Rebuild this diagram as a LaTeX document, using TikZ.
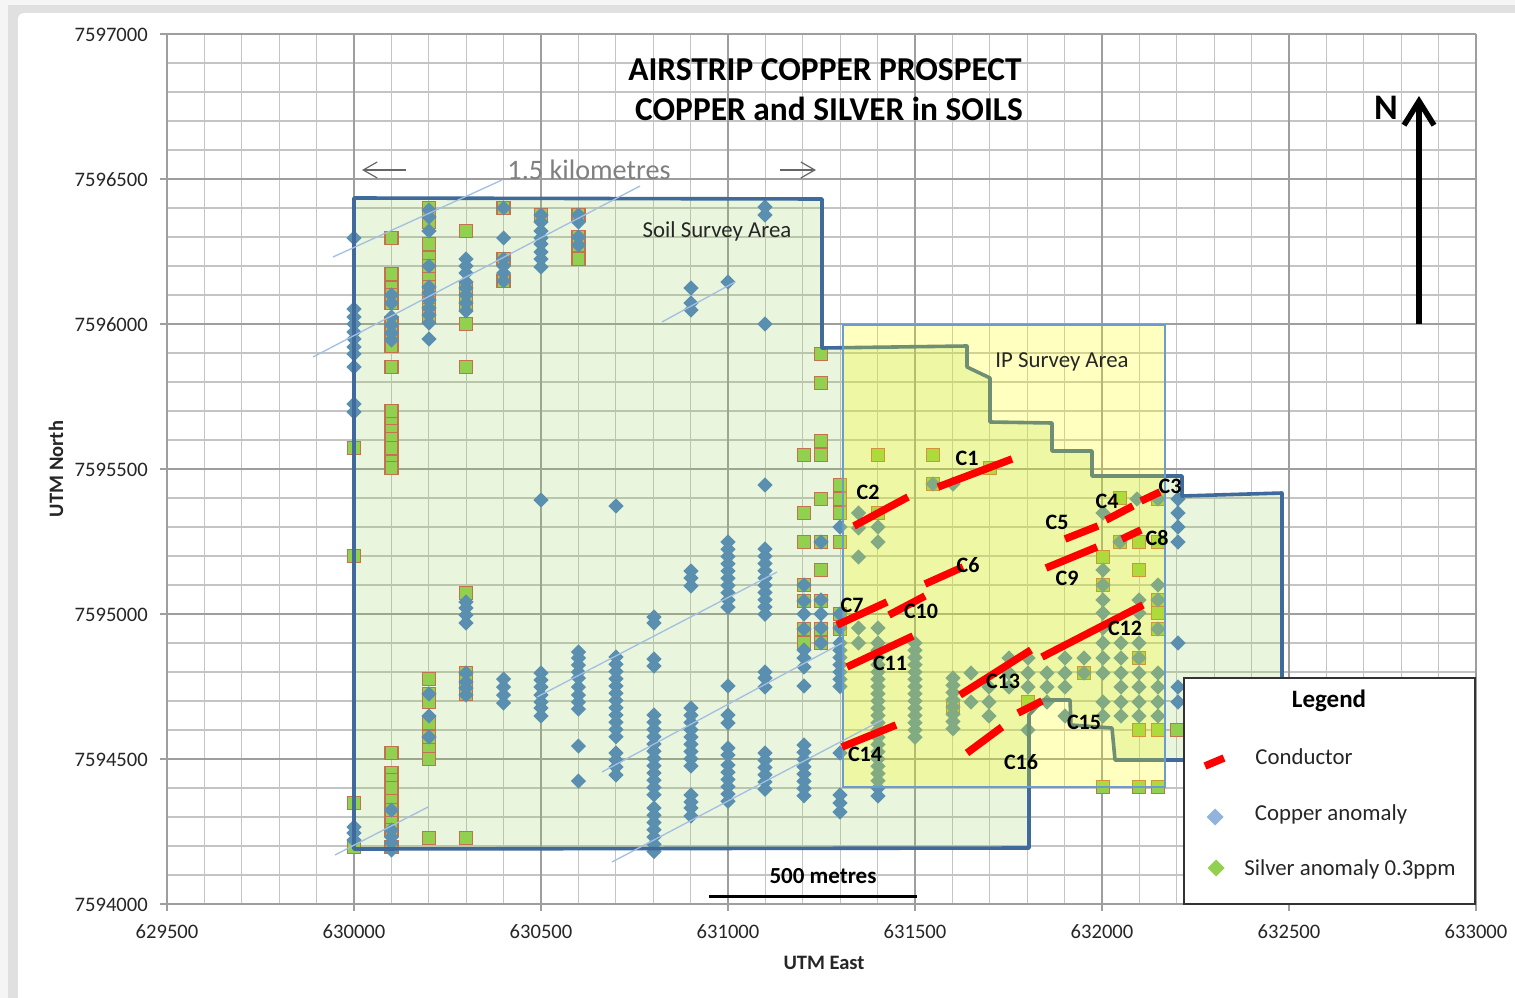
\documentclass[tikz,border=0pt]{standalone}
\usepackage{fontspec}
\setmainfont{Carlito}
\usetikzlibrary{arrows.meta}
\definecolor{gridminor}{HTML}{C4C4C4}
\definecolor{gridmajor}{HTML}{9E9E9E}
\definecolor{soilblue}{HTML}{3F6A9B}
\definecolor{soilgreen}{HTML}{92D050}
\definecolor{ipyellow}{HTML}{FFFF00}
\definecolor{cupt}{HTML}{5A8FAF}
\definecolor{sqedge}{HTML}{C4714F}
\definecolor{ipedge}{HTML}{6C9BD2}
\definecolor{diag}{HTML}{A3BEE3}
\definecolor{txt}{HTML}{262626}
\newcommand\Fs[1]{\fontsize{#1}{#1}\selectfont}
\newcommand\Cu[2]{\foreach \yy in {#2}{\fill[cupt] (#1-7.6,\yy) -- (#1,\yy-7.6) -- (#1+7.6,\yy) -- (#1,\yy+7.6) -- cycle;}}
\newcommand\CuR[3]{\pgfmathtruncatemacro\nnn{round((#3-#2)/7.25)}\foreach \ii in {0,...,\nnn}{\pgfmathsetmacro\yy{#2+\ii*7.25}\fill[cupt] (#1-7.6,\yy) -- (#1,\yy-7.6) -- (#1+7.6,\yy) -- (#1,\yy+7.6) -- cycle;}}
\newcommand\Sq[2]{\foreach \yy in {#2}{\draw[sqedge,line width=1.5pt,fill=soilgreen] (#1-6.4,\yy-6.4) rectangle (#1+6.4,\yy+6.4);}}
\tikzset{
  cond/.style={draw=red,line width=7.5pt},
  diagl/.style={draw=diag,line width=1.3pt},
  clabel/.style={font=\Fs{22}\bfseries,text=black,inner sep=0pt},
  xtick/.style={font=\Fs{20.6},text=txt,inner sep=0pt},
  ytick/.style={font=\Fs{20.6},text=txt,inner sep=0pt,anchor=east},
  axlabel/.style={font=\Fs{20.5}\bfseries,text=txt,inner sep=0pt},
  plain/.style={font=\Fs{22.8},text=black!85,inner sep=0pt},
  title/.style={font=\Fs{33.4}\bfseries,text=black,inner sep=0pt},
}
\begin{document}
\begin{tikzpicture}[x=1pt,y=-1pt]
\useasboundingbox (0,0) rectangle (1515,998);
% window frame
\fill[black!4] (0,0) rectangle (1515,998);
\fill[black!12] (8,5) rectangle (1515,998);
\fill[white,rounded corners=6pt] (18,13) rectangle (1530,1010);
% grid
\foreach \i in {0,...,35}{\draw[gridminor,line width=1.2pt] ({167+\i*37.4},34) -- ({167+\i*37.4},904);}
\foreach \i in {0,...,30}{\draw[gridminor,line width=1.2pt] (167,{34+\i*29}) -- (1476,{34+\i*29});}
\foreach \i in {0,...,7}{\draw[gridmajor,line width=1.2pt] ({167+\i*187},34) -- ({167+\i*187},911);}
\foreach \i in {0,...,6}{\draw[gridmajor,line width=1.2pt] (160,{34+\i*145}) -- (1476,{34+\i*145});}
% soil survey area fill
\fill[soilgreen,opacity=.2] (354,198) -- (822,199) -- (822,348) -- (967,346) -- (967,367) -- (990,378) -- (990,422) -- (1052,423) -- (1052,451) -- (1092,451) -- (1092,476) -- (1182,476) -- (1182,496) -- (1282,493) -- (1282,760) -- (1115,760) -- (1112,728) -- (1071,725) -- (1070,700) -- (1043,700) -- (1029,715) -- (1029,848) -- (354,849) -- cycle;
% silver squares
\Sq{354}{448,556,803,847}
\Sq{391.4}{238,274,288,295,303,323,332,346,367,411,424,431,439,448,462,468,753,773,780,788,801,810,823,830,847}
\Sq{429}{208,215,222,244,258,266,279,287,295,303,310,317,679,694,702,723,737,750,759,838}
\Sq{466}{231,288,295,303,324,367,593,673,682,688,694,838}
\Sq{503.6}{208,259,281}
\Sq{541}{215}
\Sq{578.4}{215,237,245,259}
\Sq{804}{455,513,542,585,601,629,643}
\Sq{821}{354,383,441,455,499,542,570,601,629,643}
\Sq{840}{485,499,513,542,614,629}
\Sq{878}{455,513}
\Sq{933}{455,484}
\Sq{953}{708}
\Sq{990}{468}
\Sq{1028}{702}
\Sq{1084}{673}
\Sq{1103}{557,585,787}
\Sq{1120}{498,542}
\Sq{1139}{542,570,658,730,787}
\Sq{1158}{499,542,600,613,629,730,787}
\Sq{1177}{730}
% copper diamonds
\Cu{354}{238,309,317,324,332,339,347,354,367,404,412,827,833,840}
\Cu{391.4}{295,303,317,325,333,340,810,830,837,843,850}
\Cu{429}{210,217,231,266,287,293,300,308,315,323,339,694,716,737}
\Cu{466}{259,266,273,282,288,295,303,311,602,608,615,623,673,682,688,695}
\Cu{503.6}{208,238,259,266,273,281,679,687,695,703}
\Cu{541}{215,222,231,238,244,252,259,267,500,673,680,687,695,702,708,716}
\Cu{578.4}{215,222,237,245,652,658,665,672,678,687,695,702,709,746,781}
\Cu{616}{506,753,760,767,775}
\CuR{616}{657}{737}
\Cu{654}{617,623,659,666}
\CuR{654}{715}{797}
\CuR{654}{808}{848}
\Cu{691}{288,303,310,571,578,586,795,802,808,816}
\CuR{691}{708}{767}
\Cu{728}{282,686,715,723,748,755}
\CuR{728}{542}{608}
\CuR{728}{765}{803}
\Cu{765}{207,215,324,485,672,678,687}
\CuR{765}{549}{615}
\CuR{765}{753}{790}
\Cu{804}{585,601,614,629,650,658,667,686}
\CuR{804}{745}{798}
\Cu{821}{542,600,614,628,643}
\Cu{840}{527,614,628,753,795,803,812}
\CuR{840}{643}{688}
\Cu{858.5}{513,528,557,628,643}
\Cu{878}{527,542,628,796}
\CuR{878}{643}{787}
\CuR{915}{643}{738}
\CuR{953}{678}{732}
\Cu{933}{484}
\Cu{953}{484}
\Cu{971}{673,702}
\Cu{989}{687,702,716}
\Cu{1009}{658,673,687}
\Cu{1028}{658,673,687,730}
\Cu{1047}{673,687,702}
\Cu{1065}{658,673,687,716}
\Cu{1084}{658,673}
\Cu{1103}{513,570,585,600,613,628,643,658,673,702,716}
\Cu{1121}{643,658,673,687,702,716}
\Cu{1120}{542}
\Cu{1137}{499}
\Cu{1139}{600,613,643,658,673,687,702,716}
\Cu{1158}{499,585,600,629,673,687,702,716}
\Cu{1178}{499,513,527,542,643,687,702}
% soil outline lies under the yellow IP survey area
\draw[soilblue,line width=3.6pt,line join=round] (354,198) -- (822,199) -- (822,348) -- (967,346) -- (967,367) -- (990,378) -- (990,422) -- (1052,423) -- (1052,451) -- (1092,451) -- (1092,476) -- (1182,476) -- (1182,496) -- (1282,493) -- (1282,760) -- (1115,760) -- (1112,728) -- (1071,725) -- (1070,700) -- (1043,700) -- (1029,715) -- (1029,848) -- (354,849) -- cycle;
\fill[ipyellow,opacity=.25] (843,325) rectangle (1165,787);
\draw[ipedge,line width=1.1pt] (843,325) rectangle (1165,787);
% thin diagonals
\draw[diagl] (333,257) -- (502,180);
\draw[diagl] (313,357) -- (640,186);
\draw[diagl] (662,322) -- (735,282);
\draw[diagl] (335,855) -- (428,807);
\draw[diagl] (537,697) -- (777,572);
\draw[diagl] (602,772) -- (842,643);
\draw[diagl] (612,862) -- (882,720);
% conductors
\draw[cond] (938,487) -- (1012,459);
\draw[cond] (854,526) -- (908,497);
\draw[cond] (925,584) -- (963,567);
\draw[cond] (837,625) -- (887,602);
\draw[cond] (889,615) -- (925,596);
\draw[cond] (847,667) -- (913,636);
\draw[cond] (842,747) -- (896,725);
\draw[cond] (960,695) -- (1031,650);
\draw[cond] (1042,657) -- (1143,605);
\draw[cond] (1018,713) -- (1042,701);
\draw[cond] (967,753) -- (1002,727);
\draw[cond] (1141,501) -- (1160,492);
\draw[cond] (1106,520) -- (1133,506);
\draw[cond] (1065,539) -- (1098,526);
\draw[cond] (1122,539) -- (1141,530);
\draw[cond] (1046,568) -- (1097,547);
% conductor labels
\node[clabel] (c1) at (967,458) {C1};
\node[clabel] (c2) at (868,492) {C2};
\node[clabel] (c3) at (1170,486) {C3};
\node[clabel] (c4) at (1107,501) {C4};
\node[clabel] (c5) at (1057,522) {C5};
\node[clabel] (c6) at (968,565) {C6};
\node[clabel] (c7) at (852,605) {C7};
\node[clabel] (c8) at (1157,538) {C8};
\node[clabel] (c9) at (1067,578) {C9};
\node[clabel] (c10) at (921,611) {C10};
\node[clabel] (c11) at (890,663) {C11};
\node[clabel] (c12) at (1125,628) {C12};
\node[clabel] (c13) at (1003,681) {C13};
\node[clabel] (c14) at (865,754) {C14};
\node[clabel] (c15) at (1084,722) {C15};
\node[clabel] (c16) at (1021,762) {C16};
% area labels
\node[plain] (soil) at (717,231) {Soil Survey Area};
\node[plain] (ip) at (1062,362) {IP Survey Area};
% width annotation
\node[font=\Fs{28.2},text=black!50,inner sep=0pt] (km) at (589,170) {1.5 kilometres};
\coordinate (kmL0) at (406,170); \coordinate (kmL1) at (362,170);
\coordinate (kmR0) at (780,170); \coordinate (kmR1) at (816,170);
\draw[black!60,line width=1.2pt,-{Straight Barb[length=14pt,width=16pt]}] (kmL0) -- (kmL1);
\draw[black!60,line width=1.2pt,-{Straight Barb[length=14pt,width=16pt]}] (kmR0) -- (kmR1);
% title
\node[title] (t1) at (825,70) {AIRSTRIP COPPER PROSPECT};
\node[title] (t2) at (829,109) {COPPER and SILVER in SOILS};
% north arrow
\node[font=\Fs{36}\bfseries,inner sep=0pt] (north) at (1386,108) {N};
\coordinate (nA) at (1419,324); \coordinate (nB) at (1419,96);
\draw[black,line width=5.5pt,-{Straight Barb[length=24pt,width=30pt,line width=5.5pt]}] (nA) -- (nB);
% scale bar
\node[font=\Fs{23}\bfseries,inner sep=0pt] (sc) at (823,876) {500 metres};
\coordinate (sL) at (709,896); \coordinate (sR) at (917,896);
\draw[black,line width=3pt] (sL) -- (sR);
% axis labels
\foreach \i/\v in {0/629500,1/630000,2/630500,3/631000,4/631500,5/632000,6/632500,7/633000}{\node[xtick] (x\v) at ({167+\i*187},932) {\v};}
\foreach \i/\v in {0/7597000,1/7596500,2/7596000,3/7595500,4/7595000,5/7594500,6/7594000}{\node[ytick] (y\v) at (148,{35+\i*145}) {\v};}
\node[axlabel] (xa) at (824,963) {UTM East};
\node[axlabel,rotate=90] (ya) at (56,469) {UTM North};
% legend
\node[draw=black!80,line width=1.5pt,fill=white,minimum width=291pt,minimum height=226pt,inner sep=0pt] (legend) at (1329.5,791) {};
\node[font=\Fs{25}\bfseries,inner sep=0pt] (lt) at (1329,701) {Legend};
\node[plain] (l1) at (1304,757) {Conductor};
\node[plain] (l2) at (1331,814) {Copper anomaly};
\node[plain] (l3) at (1350,869) {Silver anomaly 0.3ppm};
\draw[cond] (1205,766) -- (1224,758);
\fill[fill=ipedge!75] (1206.5,817) -- (1215,808.5) -- (1223.5,817) -- (1215,825.5) -- cycle;
\fill[soilgreen] (1207.5,868) -- (1216,859.5) -- (1224.5,868) -- (1216,876.5) -- cycle;
\end{tikzpicture}
\end{document}
